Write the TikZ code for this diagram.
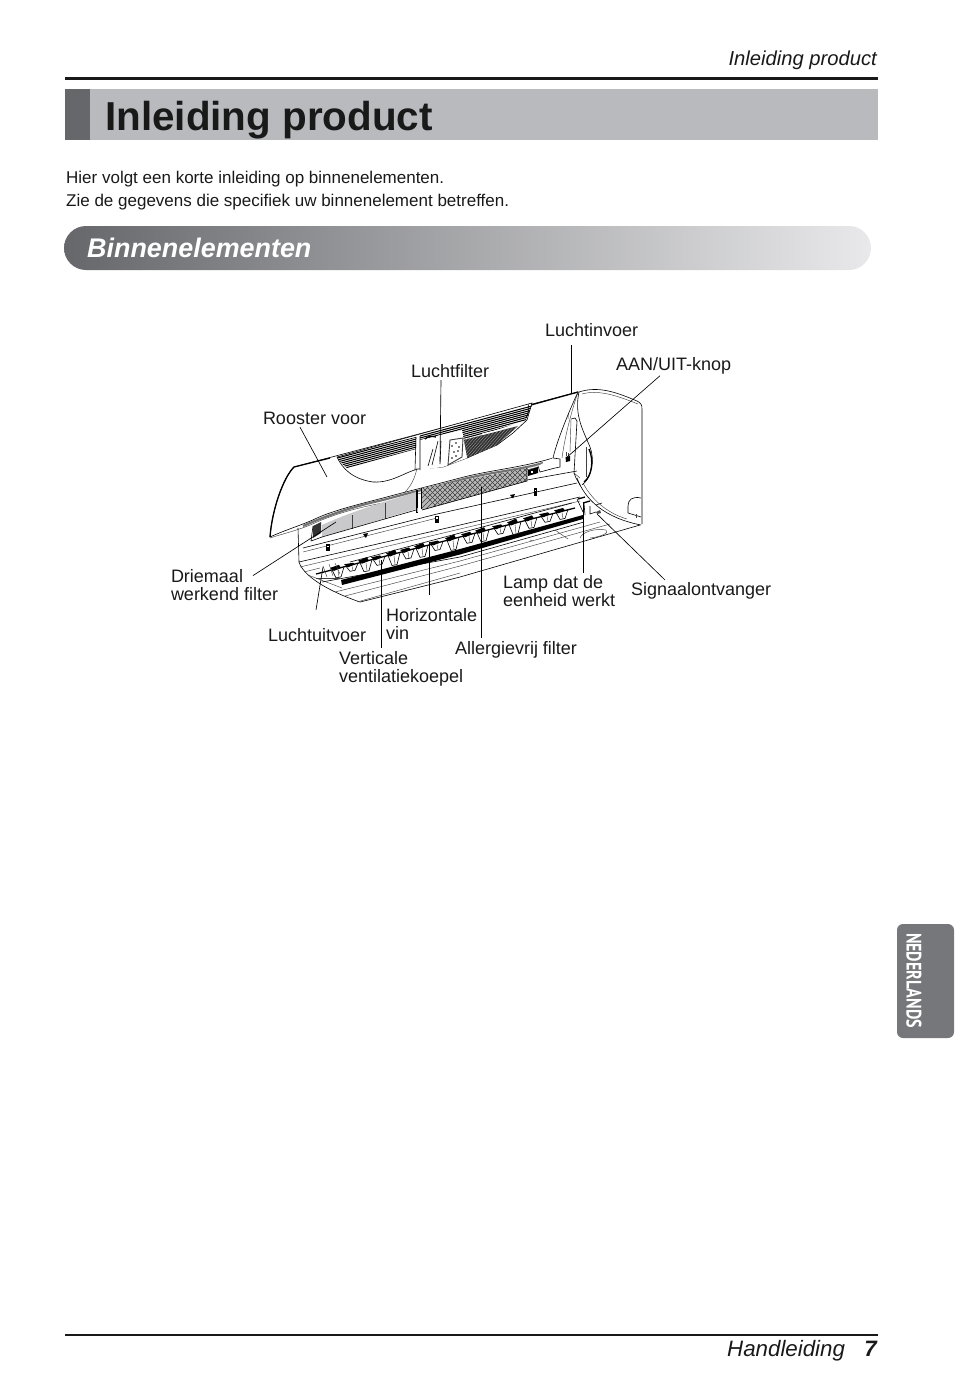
\documentclass[tikz,border=0pt]{standalone}
\usepackage{fontspec}
\usepackage{graphicx}
\setmainfont{Liberation Sans}
\usetikzlibrary{calc}
\definecolor{bandgray}{HTML}{B9BABE}
\definecolor{blockgray}{HTML}{66676B}
\definecolor{tabgray}{HTML}{76777B}
\definecolor{barlight}{HTML}{E9E9EB}
\definecolor{filtergray}{HTML}{C9C9CB}
\tikzset{
  x=1pt,y=-1pt,
  lbl/.style={anchor=base west,inner sep=0pt,outer sep=0pt,align=left,font=\fontsize{18}{18}\selectfont,text=black!90},
  leader/.style={draw=black,line width=0.65pt},
  unit/.style={draw=black,line width=0.6pt},
  thinl/.style={draw=black!75,line width=0.45pt},
  heavy/.style={draw=black,line width=1.3pt}
}
\begin{document}
\begin{tikzpicture}
\useasboundingbox (0,0) rectangle (954,1400);
% page furniture
\fill[black!90] (64.5,77) rectangle (878,80);
\fill[bandgray] (64.5,89) rectangle (878,140);
\fill[blockgray] (64.5,89) rectangle (90,140);
\node[anchor=base east,inner sep=0pt,font=\fontsize{20.2}{20}\selectfont\itshape,text=black!90] (hdr) at (877,65.5) {Inleiding product};
\node[anchor=base west,inner sep=0pt,font=\fontsize{40.4}{40}\selectfont\bfseries,text=black!90] (title) at (105,130.5) {Inleiding product};
\node[anchor=base west,inner sep=0pt,font=\fontsize{17}{17}\selectfont,text=black!90] (introa) at (66,183) {Hier volgt een korte inleiding op binnenelementen.};
\node[anchor=base west,inner sep=0pt,font=\fontsize{17}{17}\selectfont,text=black!90] (introb) at (66,206.5) {Zie de gegevens die specifiek uw binnenelement betreffen.};
\shade[left color=blockgray,right color=barlight,rounded corners=22pt] (64,226) rectangle (871,270);
\node[anchor=base west,inner sep=0pt,font=\fontsize{26.9}{27}\selectfont\bfseries\itshape,text=white] (sect) at (87,257) {Binnenelementen};
\fill[black!90] (64.5,1333.5) rectangle (878,1335.5);
\node[anchor=base west,inner sep=0pt,font=\fontsize{22.3}{22}\selectfont\itshape,text=black!90] (foot) at (727,1356) {Handleiding};
\node[anchor=base east,inner sep=0pt,font=\fontsize{22.3}{22}\selectfont\bfseries\itshape,text=black!90] (pageno) at (877,1356) {7};
\fill[tabgray,rounded corners=6pt] (954,924) -- (897,924) -- (897,1038) -- (954,1038) -- cycle;
\node[rotate=-90,inner sep=0pt,text=white] (lang) at (914,980.5) {\resizebox{95pt}{15pt}{\fontspec{PT Sans}\bfseries NEDERLANDS}};

% --- casing, right part
\draw[unit] (579,392) .. controls (600,385) and (620,394) .. (637,401) .. controls (641,403) and (642,405) .. (642,409) -- (642,524);
\draw[thinl] (582,394) .. controls (600,389) and (620,397) .. (638,404);
% body arcs
\draw[unit] (577,478) .. controls (585,500) and (605,518) .. (641,525);
\draw[thinl] (583,483) .. controls (592,500) and (607,513) .. (627,519);
\draw[unit] (641,498) .. controls (632,496) and (628,500) .. (628,506) -- (628,513) (628,513) -- (641,517);
\draw[thinl] (636,514) -- (636,518);
% side recess
\draw[unit] (579,392) .. controls (574,415) and (583,430) .. (590,447) .. controls (595,460) and (592,478) .. (582,485);
\draw[heavy] (589,449) .. controls (594,460) and (592,476) .. (584,482);
\draw[thinl] (586,447) -- (586,477);
\draw[thinl] (579,392) .. controls (572,400) and (568,410) .. (568,419);
\draw[unit] (571,419) -- (575,418) -- (577,421) -- (574,473) -- (576,478) -- (580,485);
\draw[thinl] (571,419) -- (570,452);
\draw[thinl] (574,473) -- (580,478);
% --- main body lines
\draw[unit] (298,528) -- (299,562);
\draw[unit] (299,562) .. controls (303,575) and (325,590) .. (360,602) -- (460,577) -- (640,525);
\draw[unit] (527,480) -- (577,471);
\draw[unit] (303,548) -- (437,514) -- (577,483);
\draw[thinl] (303,552) -- (437,518);
\draw[unit] (299,562) -- (460,525) -- (580,497);
\draw[thinl] (300,567) -- (460,529) -- (580,501);
\draw[thinl] (304,572) -- (320,568);
% lower shell lines
\draw[thinl] (308,575) -- (342,588);
\draw[unit] (322,582) -- (460,557) -- (584,522);
\draw[thinl] (335,592) -- (460,561) -- (600,522);
\draw[thinl] (345,596) -- (460,566) -- (610,524);
\draw[thinl] (357,602) -- (460,573);
% dark band of the outlet
\fill[black] (341,580) -- (460,549) -- (583,515) -- (583,519) -- (460,554.5) -- (342,585) -- cycle;
% rods and fins
\foreach \px/\h in {332/8,346/5,360/9,373/6,388/10,402/7,416/9,431/6,447/10,463/7,477/9,494/6,509/10,525/8,541/6,556/7}{
  \pgfmathsetmacro{\py}{574-(\px-316)*0.2565}
  \draw[unit,fill=white] (\px,\py) -- ({\px+4},{\py+\h}) -- ({\px+9},{\py+\h-1}) -- ({\px+12},{\py-3});
  \fill[black] ({\px-2},{\py-2}) -- ({\px+7},{\py-\h/2-1}) -- ({\px+9},{\py-2}) -- ({\px+2},{\py+1}) -- cycle;
  \draw[thinl] ({\px+6},\py) -- ({\px+7},{\py+\h-1});
}
\draw[heavy] (316,574) -- (460,537) -- (575,508);
\draw[unit] (350,562) -- (460,533) -- (572,503);
\draw[thinl] (316,578) -- (340,578);
\draw[thinl] (323,566) -- (327,577) (329,564) -- (333,576) (335,563) -- (340,574);
% right end tabs
\draw[heavy] (578,499) -- (585,497) (583,503) -- (590,501);
\draw[unit] (577,499) -- (583,512) (584,503) -- (585,515) (590,506) -- (590,514) -- (596,512);
\draw[unit] (596,505) -- (602,503);
\fill[black!70] (596,512) -- (600,510) -- (601,513) -- (597,514) -- cycle;
\draw[thinl] (580,538) .. controls (582,532) and (595,528) .. (606,530) .. controls (610,533) and (600,537) .. (590,538);
\draw[thinl] (555,530) -- (568,539);
\draw[thinl] (530,540) -- (533,541);
% tags and triangles
\fill[black] (326,544) rectangle (330,551);
\fill[white] (327.3,545.5) rectangle (328.7,547);
\fill[black] (435,515.5) rectangle (439,523);
\fill[white] (436.3,517) rectangle (437.7,518.5);
\fill[black] (533.5,488) rectangle (537,496);
\fill[white] (534.8,489.5) rectangle (536,491);
\fill[black] (363,534) -- (368,533) -- (366,538) -- cycle;
\fill[black] (510,495) -- (515,494) -- (513,498.5) -- cycle;
% --- front panel
\draw[unit,fill=white] (294,467) -- (578,392) .. controls (565,420) and (556,445) .. (553,458) .. controls (520,468) and (490,470) .. (460,478) .. controls (430,486) and (405,492) .. (383,498) .. controls (360,504) and (335,510) .. (317,518) .. controls (305,524) and (285,530) .. (270,537) .. controls (272,510) and (283,478) .. (294,467) -- cycle;
\draw[heavy] (270,537) .. controls (272,510) and (283,478) .. (294,467) -- (330,458);
\draw[heavy] (440,430) -- (578,392);
% panel rim
\draw[black!55,line width=2.2pt] (303,526) .. controls (335,512) and (360,505) .. (383,500) .. controls (405,494) and (430,488) .. (460,480) .. controls (490,472) and (520,470) .. (543,463);
\draw[thinl] (270,538) .. controls (285,533) and (300,530) .. (317,522) .. controls (335,514) and (360,507) .. (383,503) .. controls (405,497) and (430,491) .. (460,483) .. controls (490,475) and (520,473) .. (545,465);
% right inner rim of the panel
\draw[thinl] (578,392) .. controls (572,410) and (565,435) .. (562,458);
\draw[unit,fill=white] (553,458) -- (560,459) -- (560,467) -- (555,468) -- (540,472) -- (538,466);
% opening in the panel
\draw[unit,fill=white] (337,457) .. controls (342,468) and (352,479) .. (373,482) .. controls (392,483) and (405,472) .. (418,469) -- (443,467) -- (467,458) -- (497,445) -- (513,433) -- (527,420) -- (532,403) -- cycle;
\begin{scope}
\clip (337,457) .. controls (341,463) and (344,466) .. (347,468) -- (416,449) -- (416,437) -- cycle;
\foreach \d in {1,3,...,17}{
  \draw[black,line width=1.05pt] (330,{459+\d}) -- (420,{435+\d});
}
\end{scope}
\begin{scope}
\clip (420,435) -- (532,405) -- (526,420) -- (490,432) -- (420,450) -- cycle;
\foreach \d in {1,3,...,17}{
  \draw[black,line width=1.05pt] (420,{435+\d}) -- (532,{405+\d});
}
\end{scope}
\begin{scope}
\clip (463,440) -- (518,426) -- (497,445) -- (467,458) -- cycle;
\fill[black!80] (455,420) rectangle (525,460);
\foreach \k in {0,3,...,80}{
  \draw[black!35,line width=0.3pt] ({440+\k},460) -- ({470+\k},425);
}
\end{scope}
\fill[white] (482,433.5) -- (502,428.5) -- (502,430) -- (482,435) -- cycle;
\draw[unit] (528,404) .. controls (530,408) and (528,414) .. (526,418);
% control panel
\fill[white] (420,440) -- (462,430) -- (467,458) -- (443,467) -- (420,470) -- cycle;
\draw[unit] (416,437) -- (415,470) (420,436) -- (420,470);
\draw[heavy] (425,439) .. controls (428,436) and (432,436) .. (436,437);
\draw[unit] (433,449) -- (428,466) (438,441) -- (432,465) (441,441) -- (440,464);
\draw[black!75,line width=0.9pt,fill=white] (450,440) -- (463,438) -- (462,457) -- (448,465) -- cycle;
\foreach \a/\b in {452/446,456/443,459/447,454/452,458/451,452/458,456/456}{\fill[black] (\a,\b) circle (0.9);}
\draw[thinl] (417,468) .. controls (415,478) and (411,486) .. (405,492);
% --- filters
\fill[filtergray] (322,525) .. controls (355,510) and (385,502) .. (416,492) -- (416,509) -- (322,537) -- cycle;
\draw[thinl] (352,515) -- (352,528.5) (385,503) -- (385,518.5);
\draw[unit] (322,537) -- (416,510);
\fill[black!80] (313,526) -- (321,522) -- (321,533) -- (313,538) -- cycle;
\draw[unit] (311,541) -- (313,526) (311,541) -- (322,537);
\fill[black] (416,490) rectangle (418,513);
\fill[black] (421,488) rectangle (422.3,509);
\fill[black!30] (416.5,508) rectangle (418,512);
% mesh filter
\begin{scope}
\clip (422,488) -- (460,481) -- (527,468) -- (527,481) -- (422,510) -- cycle;
\fill[black!28] (415,460) rectangle (530,515);
\foreach \k in {0,5,...,150}{
  \draw[black!75,line width=0.6pt] ({395+\k},515) -- ({445+\k},465);
  \draw[black!75,line width=0.6pt] ({395+\k},465) -- ({445+\k},515);
}
\end{scope}
\draw[unit] (422,510) -- (527,481) -- (527,468);
\fill[black] (528,470) -- (538,467) -- (538,473) -- (528,476) -- cycle;
\fill[white] (531,471) rectangle (533,473);
% AAN button
\fill[black] (565.5,457) -- (570,456) -- (570,461) -- (566,462) -- cycle;
\draw[thinl] (566,452) -- (566,456) (568,453) -- (568,456);
% --- labels
\node[lbl] (rooster) at (263,424) {Rooster voor};
\node[lbl] (filterl) at (411,377) {Luchtfilter};
\node[lbl] (invoer) at (545,336) {Luchtinvoer};
\node[lbl] (aan) at (616,370) {AAN/UIT-knop};
\node[lbl] (driemaal) at (171,582) {Driemaal};
\node[lbl] (werkend) at (171,600) {werkend filter};
\node[lbl] (uitvoer) at (268,641) {Luchtuitvoer};
\node[lbl] (horiz) at (386,621) {Horizontale};
\node[lbl] (vin) at (386,639) {vin};
\node[lbl] (vert) at (339,664) {Verticale};
\node[lbl] (koepel) at (339,682) {ventilatiekoepel};
\node[lbl] (allerg) at (455,654) {Allergievrij filter};
\node[lbl] (lamp) at (503,588) {Lamp dat de};
\node[lbl] (eenheid) at (503,606) {eenheid werkt};
\node[lbl] (signaal) at (631,595) {Signaalontvanger};
% --- leader end points
\coordinate (eRooster) at (327,477);
\coordinate (eFilter) at (440,462);
\coordinate (eInvoer) at (571,393);
\coordinate (eAan) at (566,458);
\coordinate (eDriem) at (336,522);
\coordinate (eUit) at (323,567);
\coordinate (eHoriz) at (429,542);
\coordinate (eVert) at (381,560);
\coordinate (eAllerg) at (481,487);
\coordinate (eLamp) at (583,502);
\coordinate (eSign) at (597,514);
% --- leaders
\draw[leader] ([shift={(37,3)}]rooster.south west) -- (eRooster);
\draw[leader] ([shift={(30,3)}]filterl.south west) -- (eFilter);
\draw[leader] ([shift={(26,9)}]invoer.south west) -- (eInvoer);
\draw[leader] ([shift={(44,2)}]aan.south west) -- (eAan);
\draw[leader] (driemaal.east) ++(10,0) -- (eDriem);
\draw[leader] ([shift={(48,-18)}]uitvoer.north west) -- (eUit);
\draw[leader] ([shift={(43,-13)}]horiz.north west) -- (eHoriz);
\draw[leader] ([shift={(42,-3)}]vert.north west) -- (eVert);
\draw[leader] ([shift={(26,-3)}]allerg.north west) -- (eAllerg);
\draw[leader] ([shift={(80,-2)}]lamp.north west) -- (eLamp);
\draw[leader] ([shift={(34,-2)}]signaal.north west) -- (eSign);
\end{tikzpicture}
\end{document}
